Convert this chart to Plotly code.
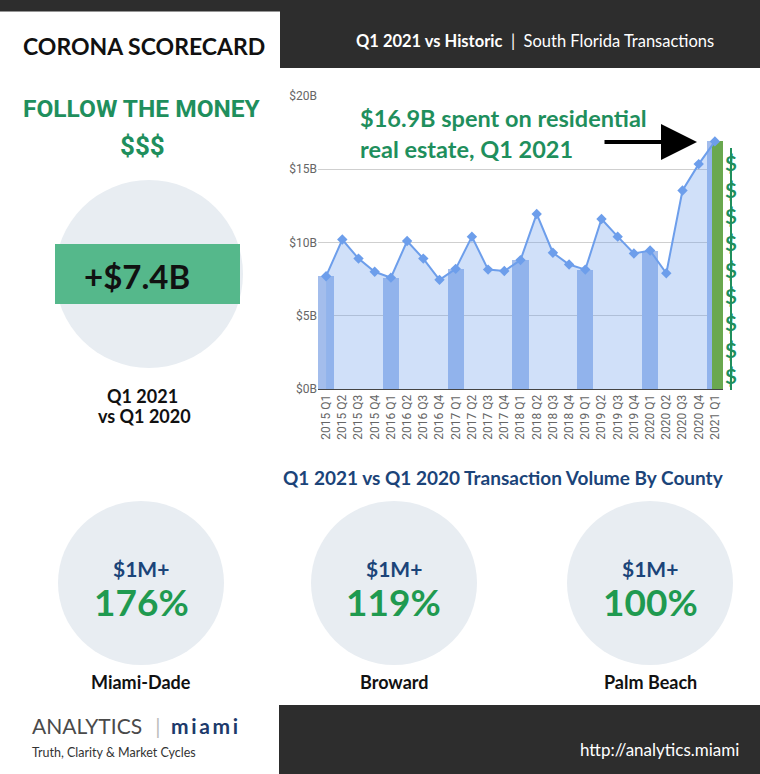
import plotly.graph_objects as go

W, H = 760, 774

# quarterly residential transaction volume, South Florida ($B)
quarters = ["2015 Q1", "2015 Q2", "2015 Q3", "2015 Q4",
            "2016 Q1", "2016 Q2", "2016 Q3", "2016 Q4",
            "2017 Q1", "2017 Q2", "2017 Q3", "2017 Q4",
            "2018 Q1", "2018 Q2", "2018 Q3", "2018 Q4",
            "2019 Q1", "2019 Q2", "2019 Q3", "2019 Q4",
            "2020 Q1", "2020 Q2", "2020 Q3", "2020 Q4",
            "2021 Q1"]
volume_b = [7.7, 10.2, 8.9, 8.0,
            7.6, 10.1, 8.9, 7.45,
            8.2, 10.4, 8.15, 8.05,
            8.8, 11.95, 9.3, 8.5,
            8.15, 11.6, 10.4, 9.25,
            9.45, 7.9, 13.55, 15.35,
            16.9]

# headline numbers
change_vs_2020_b = 7.4

# $1M+ transaction volume change by county, Q1 2021 vs Q1 2020
counties = ["Miami-Dade", "Broward", "Palm Beach"]
pct_change = [176, 119, 100]
tier_label = "$1M+"

q1_x = [q for q in quarters if q.endswith("Q1")]
q1_y = [v for q, v in zip(quarters, volume_b) if q.endswith("Q1")]


def px(x):
    return x / W


def py(y):
    return 1 - y / H


DARK = "#2d2d2d"
GREEN_TXT = "#1f8f5d"
NAVY = "#1b4479"
CIRCLE = "#e8edf2"
FONT = "Lato"

fig = go.Figure()

# Q1 bars
fig.add_trace(go.Bar(x=q1_x, y=q1_y, width=1.0,
                     marker=dict(color="#a3bdec", line=dict(width=0)),
                     hoverinfo="skip", xaxis="x", yaxis="y"))
# area under the line
fig.add_trace(go.Scatter(x=quarters, y=volume_b, mode="none", fill="tozeroy",
                         fillcolor="rgba(109,158,235,0.32)",
                         hoverinfo="skip", xaxis="x", yaxis="y"))
# latest quarter highlight
fig.add_trace(go.Bar(x=quarters[-1:], y=volume_b[-1:], width=0.68, offset=-0.18,
                     marker=dict(color="#6aa84f", line=dict(width=0)),
                     hoverinfo="skip", xaxis="x2", yaxis="y2"))
# line with diamonds
fig.add_trace(go.Scatter(x=quarters, y=volume_b, mode="lines+markers",
                         line=dict(color="#6d9eeb", width=2),
                         marker=dict(symbol="diamond", size=8, color="#6d9eeb"),
                         xaxis="x2", yaxis="y2"))

x_dom = [px(318), px(723)]
y_dom = [py(389), py(96)]
axis_font = dict(family="Roboto", size=12, color="#666666")

shapes = [
    dict(type="rect", xref="paper", yref="paper", x0=0, x1=1, y0=py(11.5), y1=1,
         fillcolor=DARK, line_width=0, layer="below"),
    dict(type="rect", xref="paper", yref="paper", x0=px(280), x1=1, y0=py(68), y1=1,
         fillcolor=DARK, line_width=0, layer="below"),
    dict(type="rect", xref="paper", yref="paper", x0=px(279), x1=1, y0=0, y1=py(705),
         fillcolor=DARK, line_width=0, layer="below"),
    dict(type="circle", xref="paper", yref="paper", x0=px(55), x1=px(243),
         y0=py(368), y1=py(180), fillcolor=CIRCLE, line_width=0, layer="below"),
    dict(type="rect", xref="paper", yref="paper", x0=px(55), x1=px(240),
         y0=py(304), y1=py(244), fillcolor="#55b88b", line_width=0, layer="below"),
    dict(type="line", xref="paper", yref="paper", x0=px(731), x1=px(731),
         y0=py(390), y1=py(148), line=dict(color=GREEN_TXT, width=2), layer="below"),
]
centers = [141, 394, 650]
for cx in centers:
    shapes.append(dict(type="circle", xref="paper", yref="paper",
                       x0=px(cx - 83), x1=px(cx + 83), y0=py(665), y1=py(501),
                       fillcolor=CIRCLE, line_width=0, layer="below"))


def label(x, y, text, size, color, bold=True, family=FONT, xanchor="center"):
    return dict(x=px(x), y=py(y), xref="paper", yref="paper", text=text,
                showarrow=False, xanchor=xanchor, yanchor="middle",
                font=dict(family=family, size=size, color=color,
                          weight="bold" if bold else "normal"))


thin = "\u2009"
en = "\u2002"
annotations = [
    label(144, 46, "CORONA SCORECARD", 23, "#111111"),
    label(535, 41, "<b>Q1 2021 vs Historic</b>  |  South Florida Transactions",
          16.5, "#ffffff", bold=False),
    label(142, 109, "FOLLOW THE MONEY", 24.5, GREEN_TXT, family="Roboto"),
    label(142, 146, "$$$", 26, GREEN_TXT, family="Roboto"),
    label(137, 276, "+$%.1fB" % change_vs_2020_b, 33, "#111111"),
    label(142, 396, "Q1 2021", 18, "#111111"),
    label(144, 416, "vs Q1 2020", 18, "#111111"),
    label(503, 477, "Q1 2021 vs Q1 2020 Transaction Volume By County", 19, NAVY),
    dict(x=px(358), y=py(134), xref="paper", yref="paper",
         text="$%.1fB spent on residential<br>real estate, Q1 2021" % volume_b[-1],
         showarrow=False, xanchor="left", yanchor="middle", align="left",
         font=dict(family=FONT, size=23.5, color=GREEN_TXT, weight="bold")),
    dict(x=px(697), y=py(142), xref="paper", yref="paper", text="",
         showarrow=True, ax=-94, ay=0, arrowhead=2, arrowsize=1.8,
         arrowwidth=4, arrowcolor="#000000", standoff=0),
    label(731, 269, "<br>".join(["$"] * 9), 20.5, GREEN_TXT),
    dict(x=px(30), y=py(725), xref="paper", yref="paper",
         text="ANALYTICS" + en + thin + "<span style='color:#bbbbbb'>|</span>" + en
              + "<b><span style='color:#1d3a6b'>" + thin.join("miami") + "</span></b>",
         showarrow=False, xanchor="left", yanchor="middle",
         font=dict(family=FONT, size=21, color="#4a4a4a")),
    label(30, 752, "Truth, Clarity &amp; Market Cycles", 12.5, "#333333",
          bold=False, xanchor="left"),
    label(659, 749, "http://analytics.miami", 17, "#ffffff", bold=False),
]
for cx, county, pct in zip(centers, counties, pct_change):
    annotations.append(label(cx, 568, tier_label, 21, NAVY))
    annotations.append(label(cx, 601, "%d%%" % pct, 37, "#1f9a50"))
    annotations.append(label(cx, 682, county, 18, "#111111"))

fig.update_layout(
    width=W, height=H,
    margin=dict(l=0, r=0, t=0, b=0, autoexpand=False),
    paper_bgcolor="#ffffff", plot_bgcolor="rgba(0,0,0,0)",
    showlegend=False, barmode="overlay", bargap=0,
    shapes=shapes, annotations=annotations,
    xaxis=dict(domain=x_dom, type="category", categoryarray=quarters,
               range=[-0.5, 24.5], tickangle=-90, tickfont=axis_font,
               showgrid=False, showline=True, linecolor="#444444", linewidth=1,
               ticks="", fixedrange=True, automargin=False),
    yaxis=dict(domain=y_dom, range=[0, 20], dtick=5, tickprefix="$", ticksuffix="B",
               tickfont=axis_font, gridcolor="#cfcfcf", zeroline=False,
               showline=False, ticks="", fixedrange=True, automargin=False),
    xaxis2=dict(overlaying="x", type="category", categoryarray=quarters,
                range=[-0.5, 24.5], visible=False, fixedrange=True),
    yaxis2=dict(overlaying="y", range=[0, 20], visible=False, fixedrange=True),
)

fig.write_html(
    "out.html",
    config={"displayModeBar": False},
    post_script="document.body.style.margin='0';"
                "var d=document.getElementById('{plot_id}');"
                "d.style.position='absolute';d.style.top='0px';d.style.left='0px';",
)
